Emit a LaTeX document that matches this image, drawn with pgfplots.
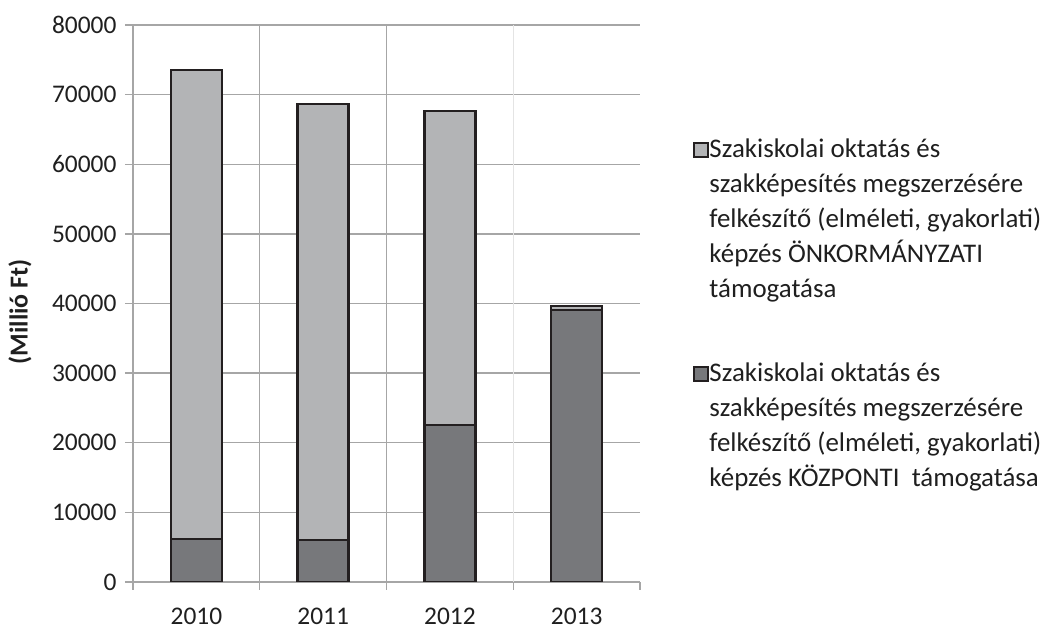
\documentclass[border=0pt]{standalone}
\usepackage{pgfplots}
\pgfplotsset{compat=1.18}
\usepackage{fontspec}
\setmainfont{Carlito}
\definecolor{lightbar}{HTML}{B3B4B6}
\definecolor{darkbar}{HTML}{77787B}
\definecolor{edge}{HTML}{231F20}
\definecolor{gridc}{HTML}{A6A6A6}
\begin{document}
\begin{tikzpicture}[x=1bp,y=1bp]
\useasboundingbox (0,0) rectangle (1045,633);
\begin{axis}[
  at={(133bp,51bp)}, anchor=south west,
  scale only axis, width=507bp, height=557bp,
  ybar stacked, bar width=51bp,
  xmin=-0.5, xmax=3.5, ymin=0, ymax=80000,
  xtick={0,1,2,3}, xticklabels={2010,2011,2012,2013},
  ytick={0,10000,...,80000},
  scaled y ticks=false,
  yticklabel style={/pgf/number format/fixed, /pgf/number format/1000 sep={}, xshift=-5bp},
  xticklabel style={yshift=-17bp, inner sep=1bp},
  /pgf/number format/assume math mode=true,
  ticklabel style={font=\fontsize{25.5}{30}\selectfont, text=black!88},
  axis x line*=bottom, axis y line*=left,
  axis line style={gridc, line width=1.3bp, -},
  ymajorgrids, major grid style={gridc, line width=1.3bp},
  tick align=outside, major tick length=8bp, minor tick length=8bp,
  every tick/.style={gridc, line width=1.3bp},
  every major x tick/.style={draw=none},
  minor xtick={-0.5,0.5,1.5,2.5,3.5},
  extra x ticks={0.5,1.5}, extra x tick labels={},
  extra x tick style={grid=major},
  ylabel={(Millió Ft)},
  ylabel style={font=\bfseries\fontsize{26}{30}\selectfont, text=black!88,
    at={(axis description cs:-0.2229,0.485)}, anchor=center},
  reverse legend,
  legend style={draw=none, fill=none, inner sep=0pt, at={(axis description cs:1.1045,0.797)},
    anchor=north west, font=\fontsize{27}{35}\selectfont, text=black!88,
    cells={anchor=north west}, row sep=63bp,
    nodes={align=left, inner sep=0.5bp}},
  legend image code/.code={\draw[#1, line width=1.8bp] (0bp,-19bp) rectangle (14bp,-5bp);},
]
\draw[gridc!30, line width=1.3bp] (axis cs:2.5,0) -- (axis cs:2.5,80000);
\addplot[fill=darkbar, draw=edge, line width=2.5bp] coordinates {(0,6200) (1,6000) (2,22550) (3,39100)};
\addplot[fill=lightbar, draw=edge, line width=2.5bp] coordinates {(0,67300) (1,62650) (2,45100) (3,550)};
\legend{{Szakiskolai oktatás és\\ szakképesítés megszerzésére\\ felkészítő (elméleti, gyakorlati)\\ képzés KÖZPONTI\ \ támogatása},
{Szakiskolai oktatás és\\ szakképesítés megszerzésére\\ felkészítő (elméleti, gyakorlati)\\ képzés ÖNKORMÁNYZATI\\ támogatása}}
\end{axis}
\end{tikzpicture}
\end{document}
